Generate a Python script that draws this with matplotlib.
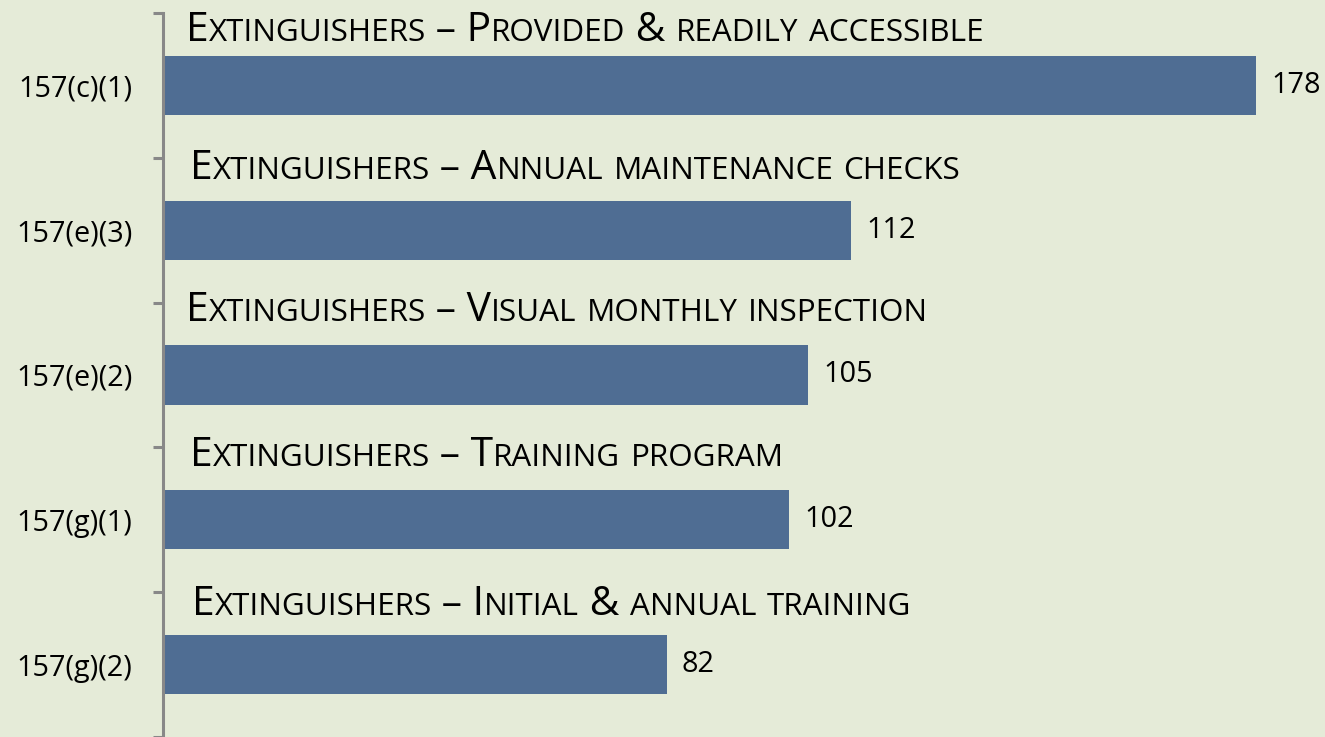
import matplotlib
matplotlib.use('Agg')
import matplotlib.pyplot as plt
from matplotlib import font_manager, ft2font
from matplotlib.font_manager import FontProperties
from matplotlib.transforms import offset_copy

codes = ['157(c)(1)', '157(e)(3)', '157(e)(2)', '157(g)(1)', '157(g)(2)']
counts = [178, 112, 105, 102, 82]
titles = [
    'Extinguishers \u2013 Provided & readily accessible',
    'Extinguishers \u2013 Annual maintenance checks',
    'Extinguishers \u2013 Visual monthly inspection',
    'Extinguishers \u2013 Training program',
    'Extinguishers \u2013 Initial & annual training',
]

DPI = 100
BG = '#E5EBD8'
BAR = '#4F6D93'
FONT = 'Open Sans'
BIG = 29.3
SMALL = 22.6
LABEL = 20.8

fig = plt.figure(figsize=(13.25, 7.37), dpi=DPI, facecolor=BG)
ax = fig.add_axes([163 / 1325, 0, 1 - 163 / 1325, 1 - 13 / 737])
ax.set_facecolor(BG)

y = list(range(len(codes)))
bar_h = 0.41
ax.barh(y, counts, height=bar_h, color=BAR)
ax.set_xlim(0, 189.2)
ax.set_ylim(len(codes) - 0.5, -0.5)

for s in ['top', 'right', 'bottom']:
    ax.spines[s].set_visible(False)
ax.spines['left'].set_color('#888888')
ax.spines['left'].set_linewidth(2.2)
ax.set_xticks([])
ax.set_yticks(y)
ax.set_yticklabels(codes, fontsize=LABEL, family=FONT)
ax.tick_params(axis='y', which='major', length=0, pad=22)
ax.set_yticks([i - 0.5 for i in range(len(codes) + 1)], minor=True)
ax.tick_params(axis='y', which='minor', length=7.5, width=2.2,
               color='#888888', direction='out')

for i, v in enumerate(counts):
    ax.annotate(str(v), (v, i), xytext=(11, 0), textcoords='offset points',
                va='center', ha='left', fontsize=LABEL, family=FONT)

# fake small caps: measure advances with freetype and place chunks
fpath = font_manager.findfont(FontProperties(family=FONT))
ft = ft2font.FT2Font(fpath)


def advance(s, size):
    ft.set_size(size, DPI)
    w = 0
    for c in s:
        g = ft.load_char(ord(c))
        w += g.linearHoriAdvance / 65536
    return w


def chunks(s):
    out = []
    for c in s:
        small = c.islower()
        if out and out[-1][1] == small:
            out[-1][0] += c
        else:
            out.append([c, small])
    return out


title_dx = [23, 27, 23, 27, 29]
title_dy = [15, 22, 24, 24, 20]

for i, t in enumerate(titles):
    x = title_dx[i]
    for txt, small in chunks(t):
        size = SMALL if small else BIG
        tr = offset_copy(ax.transData, fig=fig, x=x, y=title_dy[i], units='dots')
        ax.text(0, i - bar_h / 2, txt.upper(), transform=tr, fontsize=size,
                family=FONT, ha='left', va='baseline', color='black')
        x += advance(txt.upper(), size)

fig.savefig('out.png', dpi=DPI, facecolor=BG)
